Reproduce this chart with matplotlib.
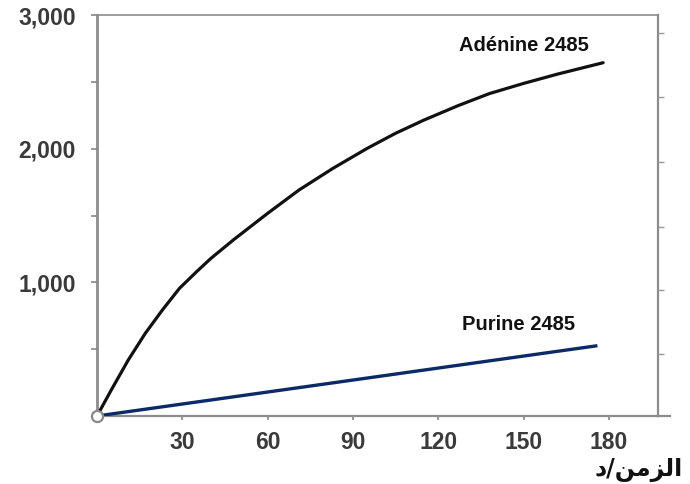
import matplotlib
matplotlib.use("Agg")
import matplotlib.pyplot as plt
from matplotlib.ticker import MultipleLocator, FuncFormatter

# Data
adenine_t = [0, 5, 11, 17, 23, 29, 35, 40, 48, 60, 71, 83, 95, 105, 115, 127, 138, 150, 162, 178]
adenine_v = [0, 194, 419, 619, 793, 955, 1079, 1178, 1318, 1516, 1690, 1853, 2002, 2115,
             2214, 2322, 2412, 2488, 2558, 2643]
purine_t = [0, 176]
purine_v = [0, 526]
x_ticks = [30, 60, 90, 120, 150, 180]
y_ticks = [1000, 2000, 3000]
label_adenine = "Adénine 2485"
label_purine = "Purine 2485"
# "الزمن/د" in shaped presentation forms, visual order
x_label = "\uFEA9/\uFEE6\uFEE3\uFEB0\uFEDF\uFE8D"

plt.rcParams['font.family'] = ['Liberation Sans', 'DejaVu Sans']

fig = plt.figure(figsize=(6.9, 4.84), dpi=100)
ax = fig.add_axes([97/690, 1-416/484, (658-97)/690, (416-15)/484])

ax.plot(adenine_t, adenine_v, color='#111111', lw=2.3, solid_capstyle='round',
        solid_joinstyle='round', zorder=3)
ax.plot(purine_t, purine_v, color='#0b2a66', lw=2.4, solid_capstyle='butt', zorder=3)
ax.plot([0], [0], marker='o', ms=8, mfc='white', mec='#888888', mew=1.6,
        clip_on=False, zorder=4)

ax.set_xlim(0, 197.3)
ax.set_ylim(0, 3000)

ax.set_xticks(x_ticks)
ax.set_yticks(y_ticks)
ax.yaxis.set_minor_locator(MultipleLocator(500))
ax.yaxis.set_major_formatter(FuncFormatter(lambda v, p: f"{int(v):,}"))

for lbl in ax.get_xticklabels() + ax.get_yticklabels():
    lbl.set_fontweight('bold')
    lbl.set_fontsize(16.5)
    lbl.set_color('#3a3a3a')

ax.tick_params(axis='both', which='both', color='#888888', width=1.2, direction='out')
ax.tick_params(axis='y', which='both', length=4.3, pad=11)
ax.tick_params(axis='x', length=3, pad=8)

for s in ['left', 'bottom', 'top', 'right']:
    ax.spines[s].set_color('#8c8c8c')
ax.spines['left'].set_linewidth(2.0)
ax.spines['bottom'].set_linewidth(1.6)
ax.spines['top'].set_linewidth(1.2)
ax.spines['right'].set_linewidth(1.6)

# extension of the x axis past the right spine
ax.plot([1.0, 1.021], [0, 0], transform=ax.transAxes, color='#8c8c8c', lw=1.6, clip_on=False)

# right side ticks
ax2 = ax.twinx()
ax2.set_ylim(0, 3000)
ax2.set_yticks([464, 942, 1414, 1900, 2386, 2865])
ax2.set_yticklabels([])
ax2.tick_params(axis='y', length=4, color='#999999', width=1.0, direction='out')
for s in ax2.spines.values():
    s.set_visible(False)

ax.text(150.3, 2775, label_adenine, ha='center', va='center', fontsize=14.5,
        fontweight='bold', color='#111111')
ax.text(148.2, 688, label_purine, ha='center', va='center', fontsize=14.5,
        fontweight='bold', color='#111111')

fig.text(683/690, 1-470/484, x_label, ha='right', va='center', fontsize=17,
         fontweight='bold', family=['DejaVu Sans'], color='#111111')

fig.savefig("out.png", dpi=100, facecolor='white')
